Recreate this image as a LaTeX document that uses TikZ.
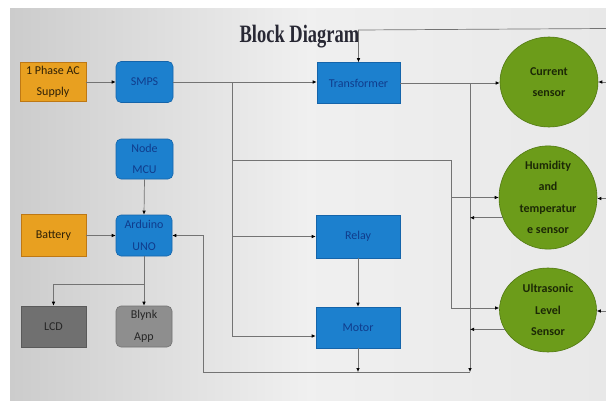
\documentclass[tikz,border=0pt]{standalone}
\usepackage{fontspec}
\setmainfont{Carlito}
\newfontfamily\titlefont{Liberation Serif}
\usetikzlibrary{arrows.meta,shapes.geometric}
\definecolor{orfill}{RGB}{232,160,32}
\definecolor{ordraw}{RGB}{190,120,20}
\definecolor{blfill}{RGB}{28,128,206}
\definecolor{bldraw}{RGB}{20,100,170}
\definecolor{bltext}{RGB}{16,60,140}
\definecolor{grfill}{RGB}{108,156,26}
\definecolor{grdraw}{RGB}{80,120,16}
\definecolor{grtext}{RGB}{28,40,6}
\definecolor{lcdfill}{RGB}{112,112,112}
\definecolor{blyfill}{RGB}{142,142,142}
\definecolor{wire}{RGB}{115,115,115}
\definecolor{ttl}{RGB}{40,40,52}
\tikzset{
  boxtxt/.style={align=center,font=\fontsize{12}{21.5}\selectfont,inner sep=0pt},
  orbox/.style={boxtxt,draw=ordraw,fill=orfill,text=black!80!orfill,line width=0.6pt},
  blbox/.style={boxtxt,draw=bldraw,fill=blfill,text=bltext,line width=0.6pt},
  blround/.style={blbox,rounded corners=5pt},
  lcdbox/.style={boxtxt,draw=lcdfill!80!black,fill=lcdfill,text=black!85,line width=0.6pt},
  blybox/.style={boxtxt,draw=blyfill!80!black,fill=blyfill,text=black!85,line width=0.6pt,rounded corners=5pt},
  sensor/.style={ellipse,draw=grdraw,fill=grfill,text=grtext,align=center,inner sep=0pt,
    font=\bfseries\fontsize{12}{21.5}\selectfont,line width=0.6pt},
  wireline/.style={draw=wire,line width=0.7pt},
  arr/.style={wireline,-{Latex[length=4pt,width=3.6pt,black]}}
}
\begin{document}
\begin{tikzpicture}[x=1pt,y=-1pt]
\useasboundingbox (0,0) rectangle (606,410);
\fill[white] (0,0) rectangle (606,410);
\shade[left color=black!20,right color=black!9,middle color=black!6] (10,8) rectangle (606,400);

% title
\node[font=\titlefont\bfseries\fontsize{25}{25}\selectfont,text=ttl,xscale=0.74,inner sep=0pt] (title) at (299.5,37) {Block Diagram};

% left column
\node[orbox,minimum width=66pt,minimum height=39pt] (ac) at (53,82) {1 Phase AC\\Supply};
\node[blround,minimum width=57pt,minimum height=41pt] (smps) at (144.5,82) {SMPS};
\node[blround,minimum width=57pt,minimum height=40pt] (mcu) at (144.5,159) {Node\\MCU};
\node[orbox,minimum width=65pt,minimum height=42pt] (bat) at (53.5,235.5) {Battery};
\node[blround,minimum width=56pt,minimum height=41pt] (ard) at (144,235.5) {Arduino\\UNO};
\node[lcdbox,minimum width=65pt,minimum height=41pt] (lcd) at (53.5,326.5) {LCD};
\node[blybox,minimum width=56pt,minimum height=41pt] (blynk) at (144,326.5) {Blynk\\App};

% middle column
\node[blbox,minimum width=83pt,minimum height=41pt] (trans) at (358.5,83) {Transformer};
\node[blbox,minimum width=84pt,minimum height=43pt] (relay) at (358,236.5) {Relay};
\node[blbox,minimum width=84pt,minimum height=41pt] (motor) at (358,327.5) {Motor};

% sensors
\node[sensor,minimum width=98pt,minimum height=90pt] (cur) at (549,82) {Current\\sensor};
\node[sensor,minimum width=98pt,minimum height=82pt] (hum) at (548,197.5) {Humidity\\and\\temperatur\\e sensor};
\node[sensor,minimum width=97pt,minimum height=84pt] (ult) at (548,310) {Ultrasonic\\Level\\Sensor};

% junction coordinates
\coordinate (b1) at (232,82);
\coordinate (b2) at (232,160);
\coordinate (c1) at (451,160);
\coordinate (b3) at (470,83);
\coordinate (b4) at (470,372);
\coordinate (bl) at (203,372);
\coordinate (a1) at (144,284);
\coordinate (t1) at (358.5,30);
\coordinate (t2) at (606,28.5);
\coordinate (rc) at (606,82);
\coordinate (rh) at (606,198.5);
\coordinate (ru) at (606,311);

% connectors
\draw[arr] (ac.east) -- (smps.west);
\draw[arr] (smps.east) -- (smps.east -| trans.west);
\draw[arr] (b1) |- ([yshift=-8.5pt]motor.west);
\draw[arr] (b1 |- relay.west) -- (relay.west);
\draw[arr] (b2) -- (c1) |- ([yshift=2pt]ult.west);
\draw[arr] (c1 |- hum.west) -- (hum.west);
\draw[arr] (trans.east) -- (trans.east -| cur.west);
\draw[arr] (b3) -- (b4);
\draw[arr] (hum.204) -- (hum.204 -| b3);
\draw[arr] (ult.204) -- (ult.204 -| b3);
\draw[arr] (rc) -- (cur.east);
\draw[arr] (rh) -- (rh -| hum.east);
\draw[arr] (ru) -- (ru -| ult.east);
\draw[arr] (t2) -- (t1) -- (trans.north);
\draw[arr] (relay.south) -- (motor.north);
\draw[wireline] (b4) -- (bl);
\draw[arr] (motor.south) -- (motor.south |- bl);
\draw[arr] (bl) |- (ard.east);
\draw[arr] (mcu.south) -- (ard.north);
\draw[arr] (bat.east) -- (ard.west);
\draw[arr] (ard.south) -- (blynk.north);
\draw[arr] (a1) -| (lcd.north);
\end{tikzpicture}
\end{document}
